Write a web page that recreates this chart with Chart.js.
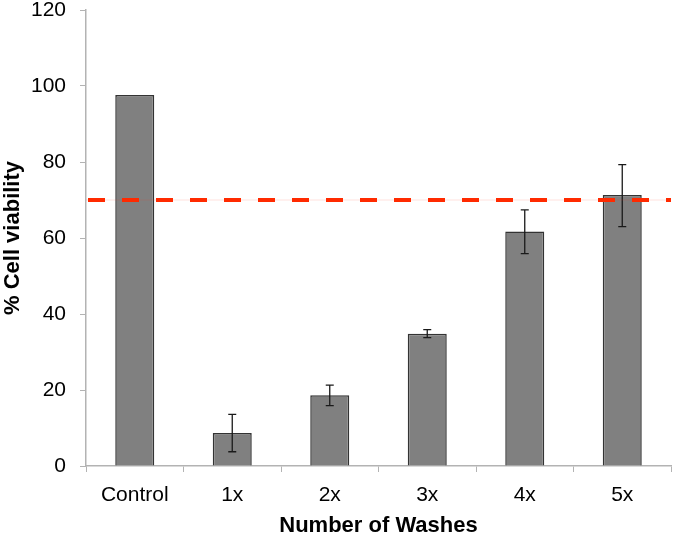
<!DOCTYPE html>
<html>
<head>
<meta charset="utf-8">
<script src="https://cdn.jsdelivr.net/npm/chart.js@4.4.0/dist/chart.umd.min.js"></script>
<style>
  html, body { margin: 0; padding: 0; background: #fff; }
  #wrap { width: 675px; height: 538px; }
</style>
</head>
<body>
<div id="wrap"><canvas id="chart" width="675" height="538"></canvas></div>
<script>
const categories = ["Control", "1x", "2x", "3x", "4x", "5x"];
const viability = [97.6, 8.7, 18.6, 34.8, 61.7, 71.3];
const errLow = [97.6, 3.75, 15.9, 33.8, 55.9, 63.0];
const errHigh = [97.6, 13.6, 21.3, 35.9, 67.4, 79.3];
const threshold = 70;
const yTicks = [0, 20, 40, 60, 80, 100, 120];

const FONT = "'Liberation Sans', Arial, sans-serif";

// error bars drawn from errLow / errHigh through the y scale
const errorBars = {
    id: "errorBars",
    afterDatasetsDraw(chart) {
        const ctx = chart.ctx;
        const y = chart.scales.y;
        const meta = chart.getDatasetMeta(0);
        ctx.save();
        ctx.strokeStyle = "#1a1a1a";
        ctx.lineWidth = 1.3;
        meta.data.forEach((bar, i) => {
            if (errHigh[i] === errLow[i]) return;
            const x = bar.x;
            const yTop = y.getPixelForValue(errHigh[i]);
            const yBot = y.getPixelForValue(errLow[i]);
            ctx.beginPath();
            ctx.moveTo(x, yTop); ctx.lineTo(x, yBot);
            ctx.moveTo(x - 4, yTop); ctx.lineTo(x + 4, yTop);
            ctx.moveTo(x - 4, yBot); ctx.lineTo(x + 4, yBot);
            ctx.stroke();
        });
        ctx.restore();
    }
};

// red dashed threshold line
const thresholdLine = {
    id: "thresholdLine",
    afterDatasetsDraw(chart) {
        const ctx = chart.ctx;
        const area = chart.chartArea;
        const py = chart.scales.y.getPixelForValue(threshold);
        ctx.save();
        ctx.strokeStyle = "rgba(255,60,30,0.15)";
        ctx.lineWidth = 1;
        ctx.beginPath();
        ctx.moveTo(area.left, py); ctx.lineTo(area.right, py);
        ctx.stroke();
        ctx.strokeStyle = "#ff2a00";
        ctx.lineWidth = 4;
        ctx.setLineDash([17, 17]);
        ctx.beginPath();
        ctx.moveTo(area.left + 2, py); ctx.lineTo(area.right, py);
        ctx.stroke();
        ctx.restore();
    }
};

new Chart(document.getElementById("chart"), {
    type: "bar",
    data: {
        labels: categories,
        datasets: [{
            data: viability,
            backgroundColor: "#808080",
            borderColor: "#333333",
            borderWidth: 1.5,
            categoryPercentage: 0.8,
            barPercentage: 0.5,
        }],
    },
    options: {
        responsive: false,
        animation: false,
        devicePixelRatio: 1,
        layout: { padding: { left: 0, right: 4, top: 10, bottom: 0 } },
        plugins: { legend: { display: false }, tooltip: { enabled: false } },
        scales: {
            x: {
                grid: { display: true, drawOnChartArea: false, color: "#b3b3b3", tickLength: 6, offset: true },
                border: { color: "#b3b3b3", width: 1.5 },
                ticks: { color: "#000", font: { family: FONT, size: 21 }, padding: 11, maxRotation: 0 },
                title: {
                    display: true, text: "Number of Washes", color: "#000",
                    font: { family: FONT, size: 22, weight: "bold" }, padding: { top: 0, bottom: -1 },
                },
                afterFit(scale) { scale.height = 72; scale.paddingLeft = 0; scale.paddingRight = 0; },
            },
            y: {
                min: 0, max: 120,
                afterBuildTicks(scale) { scale.ticks = yTicks.map(v => ({ value: v })); },
                grid: { display: true, drawOnChartArea: false, color: "#b3b3b3", tickLength: 6 },
                border: { color: "#b3b3b3", width: 1.5 },
                ticks: { color: "#000", font: { family: FONT, size: 21 }, padding: 14 },
                title: {
                    display: true, text: "% Cell viability", color: "#000",
                    font: { family: FONT, size: 22, weight: "bold" }, padding: { top: 0, bottom: 0 },
                },
                afterFit(scale) { scale.width = 86; scale.paddingTop = 0; scale.paddingBottom = 0; },
            },
        },
    },
    plugins: [errorBars, thresholdLine],
});
</script>
</body>
</html>
